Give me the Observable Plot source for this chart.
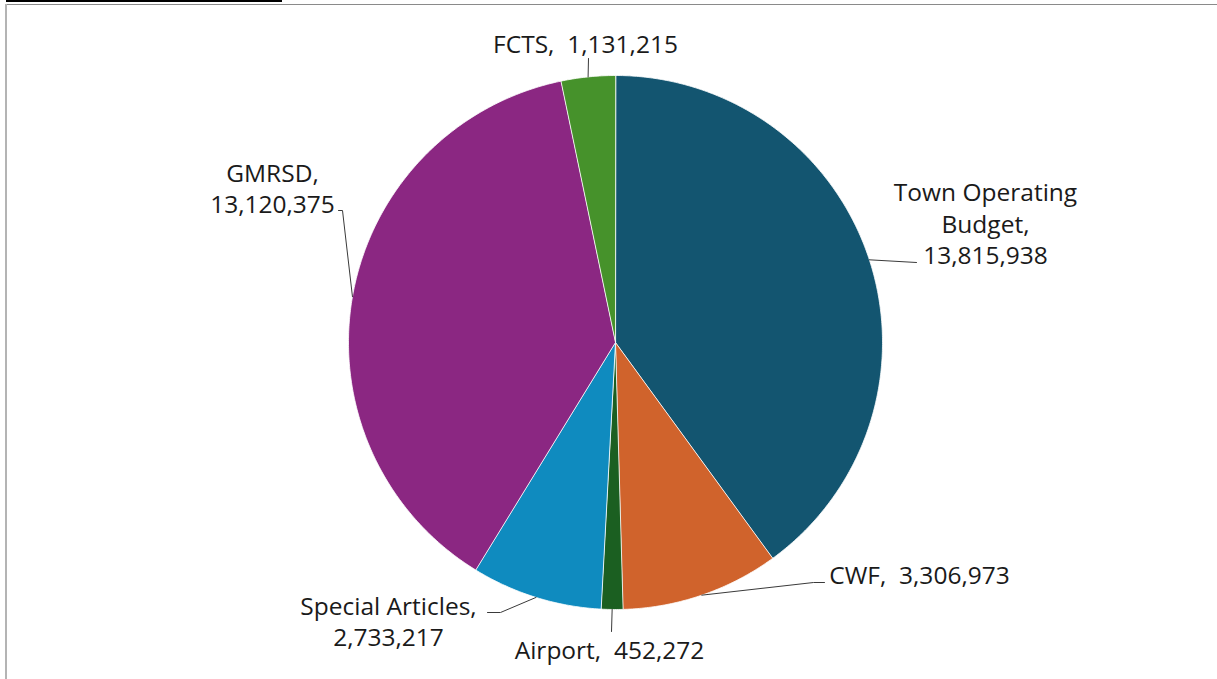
<!DOCTYPE html>
<html><head><meta charset="utf-8">
<script src="https://cdn.jsdelivr.net/npm/d3@7"></script>
<script src="https://cdn.jsdelivr.net/npm/@observablehq/plot@0.6"></script>
<style>
html,body{margin:0;padding:0;background:#fff;overflow:hidden}
#wrap{position:relative;width:1217px;height:679px}
#wrap svg{display:block}
#wrap svg text{white-space:pre}
.deco{position:absolute}
</style></head><body>
<div id="wrap">
  <div class="deco" style="left:6px;top:0;width:276px;height:2px;background:#000"></div>
  <div class="deco" style="left:5px;top:4px;width:1212px;height:1px;background:#8a8a8a"></div>
  <div class="deco" style="left:5px;top:4px;width:2px;height:675px;background:#b4b4b4"></div>
</div>
<script>
// ---- data ----
const categories = ["Town Operating Budget", "CWF", "Airport", "Special Articles", "GMRSD", "FCTS"];
const values = [13815938, 3306973, 452272, 2733217, 13120375, 1131215];
const colors = ["#135570", "#D0632C", "#1B5F21", "#0F8BBF", "#8B2782", "#46922B"];
const labelNames = ["Town Operating\nBudget,", "CWF,", "Airport,", "Special Articles,", "GMRSD,", "FCTS,"];
const labelBreak = [true, false, false, true, true, false];

// ---- layout (pixels) ----
const W = 1217, H = 679;
const cx = 615, cy = 342, R = 267;
const labelPos = [[985, 222], [919, 573], [609, 648], [388, 620], [272, 187], [585, 42]];
const leaderBends = [
  [[916, 262]],
  [[813, 582], [824, 582]],
  [[611, 631]],
  [[500, 612], [487, 612]],
  [[342, 210], [338, 210]],
  [[588, 58]]
];

const total = d3.sum(values);
const fmt = d3.format(",");
const slices = [], leaders = [], labels = [];
let cum = 0;
categories.forEach((cat, i) => {
  const a0 = cum / total * 2 * Math.PI;
  cum += values[i];
  const a1 = cum / total * 2 * Math.PI;
  const n = Math.max(2, Math.ceil((a1 - a0) * 180 / Math.PI * 2));
  slices.push({cat, color: colors[i], x: cx, y: cy});
  for (let k = 0; k <= n; k++) {
    const a = a0 + (a1 - a0) * k / n;
    slices.push({cat, color: colors[i], x: cx + R * Math.sin(a), y: cy - R * Math.cos(a)});
  }
  const am = (a0 + a1) / 2;
  leaders.push({cat, x: cx + R * Math.sin(am), y: cy - R * Math.cos(am)});
  leaderBends[i].forEach(([x, y]) => leaders.push({cat, x, y}));
  labels.push({cat, x: labelPos[i][0], y: labelPos[i][1],
    text: labelNames[i] + (labelBreak[i] ? "\n" : "  ") + fmt(values[i])});
});

const chart = Plot.plot({
  width: W, height: H,
  margin: 0,
  x: {domain: [0, W], range: [0, W], axis: null},
  y: {domain: [0, H], range: [0, H], axis: null},
  color: {type: "identity"},
  marks: [
    Plot.line(slices, {x: "x", y: "y", z: "cat", fill: "color", stroke: "white", strokeWidth: 0.8, curve: "linear-closed"}),
    Plot.line(leaders, {x: "x", y: "y", z: "cat", stroke: "#3a3a3a", strokeWidth: 1}),
    Plot.text(labels, {x: "x", y: "y", text: "text", fontSize: 24.5, lineHeight: 1.29, textAnchor: "middle", fill: "#1a1a1a", fontFamily: "'Open Sans', sans-serif"})
  ],
  style: {background: "transparent", overflow: "visible"}
});
document.getElementById("wrap").prepend(chart);
</script>
</body></html>
